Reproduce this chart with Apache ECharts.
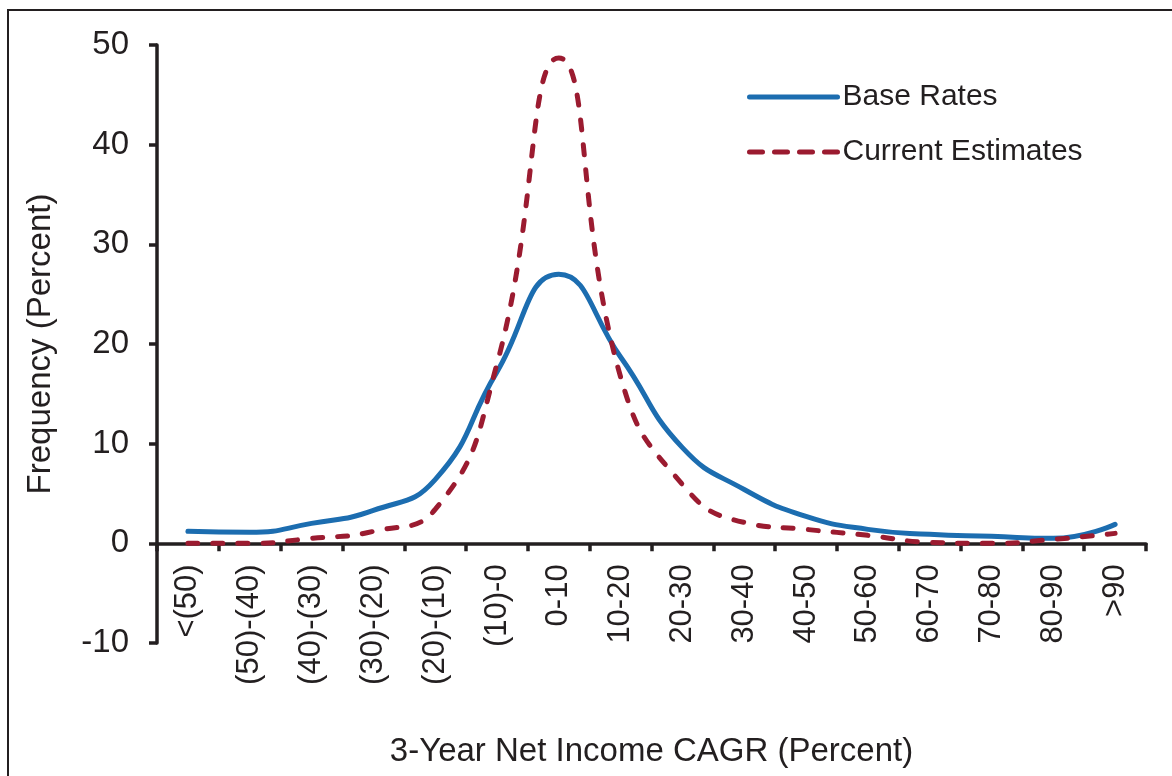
<!DOCTYPE html>
<html><head><meta charset="utf-8">
<script src="https://cdn.jsdelivr.net/npm/echarts@6/dist/echarts.min.js"></script>
<style>html,body{margin:0;padding:0;background:#fff}#c{width:1172px;height:776px}</style>
</head><body><div id="c"></div>
<script>
const categories = ['<(50)','(50)-(40)','(40)-(30)','(30)-(20)','(20)-(10)','(10)-0','0-10','10-20','20-30','30-40','40-50','50-60','60-70','70-80','80-90','>90'];
const baseRates = [1.2, 1.1, 2.0, 3.3, 6.4, 17.2, 27.0, 18.7, 9.6, 5.4, 2.7, 1.4, 0.9, 0.7, 0.5, 1.9];
const currentEstimates = [0.0, 0.0, 0.5, 1.2, 3.4, 18.0, 48.7, 16.7, 5.9, 2.1, 1.4, 0.8, 0.1, 0.0, 0.4, 1.0];
const yMin = -10, yMax = 50, yStep = 10;

const ink = '#231f20';
const font = 'Liberation Sans, Arial, sans-serif';
const gridTop = 45, gridBottom = 133, H = 776;
const plotH = H - gridTop - gridBottom;
const zeroOffset = -plotH * (0 - yMin) / (yMax - yMin);
const chart = echarts.init(document.getElementById('c'), null, {renderer:'canvas'});
chart.setOption({
  animation: false,
  backgroundColor: '#fff',
  grid: {left: 157, right: 26, top: gridTop, bottom: gridBottom, containLabel: false, outerBoundsMode: 'none'},
  graphic: [{
    type: 'polyline', z: 100,
    shape: {points: [[8, 776], [8, 10], [1172, 10]]},
    style: {stroke: ink, lineWidth: 2, fill: null}
  }],
  legend: {
    orient: 'vertical', left: 742, top: 77, itemWidth: 88, itemHeight: 20, itemGap: 25,
    itemStyle: {opacity: 0},
    lineStyle: {width: 5, cap: 'round'},
    textStyle: {fontFamily: font, fontSize: 30, color: ink},
    data: [{name: 'Base Rates'}, {name: 'Current Estimates', lineStyle: {width: 5, cap: 'round', type: [13, 12]}}]
  },
  xAxis: {
    type: 'category', data: categories, boundaryGap: true, position: 'bottom', offset: zeroOffset,
    name: '3-Year Net Income CAGR (Percent)', nameLocation: 'middle', nameGap: 192,
    nameTextStyle: {fontFamily: font, fontSize: 33, color: ink},
    axisLine: {onZero: false, lineStyle: {color: ink, width: 3.5}},
    axisTick: {show: true, inside: false, length: 8, lineStyle: {color: ink, width: 3.5}},
    axisLabel: {rotate: 90, margin: 21, fontFamily: font, fontSize: 31, color: ink, interval: 0},
    splitLine: {show: false}
  },
  yAxis: {
    type: 'value', min: yMin, max: yMax, interval: yStep,
    name: 'Frequency (Percent)', nameLocation: 'middle', nameGap: 100,
    nameTextStyle: {fontFamily: font, fontSize: 33, color: ink},
    axisLine: {show: true, lineStyle: {color: ink, width: 3.5}},
    axisTick: {show: true, inside: false, length: 8, lineStyle: {color: ink, width: 3.5}},
    axisLabel: {margin: 28, fontFamily: font, fontSize: 33, color: ink},
    splitLine: {show: false}
  },
  series: [{
    name: 'Base Rates', type: 'line', data: baseRates, smooth: 0.5, symbol: 'none',
    lineStyle: {color: '#1c6db0', width: 5, cap: 'round'}, itemStyle: {color: '#1c6db0'}
  }, {
    name: 'Current Estimates', type: 'line', data: currentEstimates, smooth: 0.5, symbol: 'none',
    lineStyle: {color: '#9b1b30', width: 5, type: [10, 15], cap: 'round'}, itemStyle: {color: '#9b1b30'}
  }]
});
</script></body></html>
